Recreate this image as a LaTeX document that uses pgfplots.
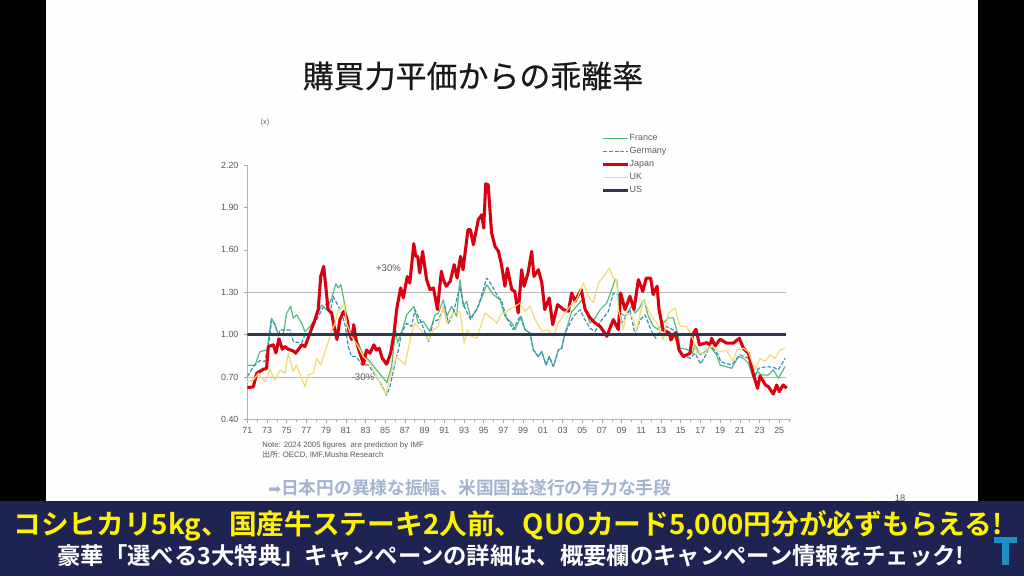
\documentclass[border=0pt]{standalone}
\usepackage{pgfplots}
\pgfplotsset{compat=1.18}
\usepackage{fontspec}
\setmainfont{Liberation Sans}
\newfontfamily\cjk[BoldFont=* Bold]{Noto Sans CJK JP}
\newfontfamily\cjkt[FakeBold=0.5]{Noto Sans CJK JP}
\newfontfamily\djv{DejaVu Sans}
\definecolor{frc}{HTML}{4FBF7E}
\definecolor{ger}{HTML}{3E8FC0}
\definecolor{jpn}{HTML}{D9000F}
\definecolor{ukc}{HTML}{F3DB72}
\definecolor{usc}{HTML}{2E3A4B}
\definecolor{txt}{HTML}{5A5A5A}
\definecolor{ban}{HTML}{1F2352}
\definecolor{foot}{HTML}{A3B4CE}
\definecolor{logo}{HTML}{1E8FC4}
\begin{document}
\begin{tikzpicture}
\useasboundingbox (0,0) rectangle (768pt,-432pt);
\begin{scope}[x=0.75pt,y=-0.75pt]
\fill[black] (0,0) rectangle (1024,576);
\fill[white!99!gray] (46,0) rectangle (978,502);
\node[font=\cjkt\fontsize{23.2pt}{26pt}\selectfont,text=black!90,anchor=center] at (473,76) {購買力平価からの乖離率};
\node[font=\fontsize{5.5pt}{6pt}\selectfont,text=txt] at (265,123) {(x)};
\node[font=\fontsize{7.2pt}{8pt}\selectfont,text=txt] at (388.5,268) {+30\%};
\node[font=\fontsize{5.85pt}{6pt}\selectfont,text=txt,anchor=west,inner sep=0pt] at (262,445.5) {Note: 2024 2005 figures\ \ are prediction by IMF};
\node[font=\fontsize{5.85pt}{6pt}\selectfont,text=txt,anchor=west,inner sep=0pt] at (262,454.5) {{\cjk 出所}: OECD, IMF,Musha Research};
\node[font=\fontsize{13.3pt}{14pt}\selectfont,text=foot,anchor=west,inner sep=0pt] at (268,488) {{\djv\fontsize{11.5pt}{12pt}\selectfont ➡}{\cjk\bfseries 日本円の異様な振幅、米国国益遂行の有力な手段}};
\node[font=\fontsize{7pt}{8pt}\selectfont,text=txt] at (900,498) {18};
\fill[ban] (0,501) rectangle (1024,576);
\node[font=\cjk\bfseries\fontsize{19pt}{21pt}\selectfont,text=yellow,anchor=center,inner sep=0pt] at (508,526) {\resizebox{742pt}{!}{コシヒカリ5kg、国産牛ステーキ2人前、QUOカード5,000円分が必ずもらえる!}};
\node[font=\cjk\bfseries\fontsize{16pt}{18pt}\selectfont,text=white,anchor=center,inner sep=0pt] at (511,556) {\resizebox{680pt}{!}{豪華「選べる3大特典」キャンペーンの詳細は、概要欄のキャンペーン情報をチェック!}};
\fill[logo] (994,537) rectangle (1017,543);
\fill[logo] (1002,543) rectangle (1009,565);
\end{scope}
\begin{axis}[
  at={(185.48pt,-314.48pt)},anchor=south west,
  scale only axis,width=407.8pt,height=190.7pt,
  xmin=71,xmax=126.2,ymin=0.4,ymax=2.2,
  axis lines=left,
  axis line style={-,draw=black!30,line width=0.5pt},
  xtick={71,73,...,125},
  xticklabels={71,73,75,77,79,81,83,85,87,89,91,93,95,97,99,01,03,05,07,09,11,13,15,17,19,21,23,25},
  minor xtick={72,74,...,126},
  ytick={0.4,0.7,1.0,1.3,1.6,1.9,2.2},
  tick style={draw=black!35,line width=0.4pt},
  tick align=outside,
  major tick length=2.5pt,minor tick length=2pt,
  tick label style={font=\fontsize{6.7pt}{7pt}\selectfont,text=txt},
  xticklabel style={yshift=-0.2pt},
  yticklabel style={xshift=-0.6pt},
  /pgf/number format/assume math mode=true,
  yticklabel style={/pgf/number format/fixed,/pgf/number format/fixed zerofill,/pgf/number format/precision=2},
  scaled y ticks=false,
  legend style={at={(0.6505,1.122)},anchor=north west,draw=none,fill=none,
    font=\fontsize{6.7pt}{7pt}\selectfont,text=txt,row sep=3.4pt,inner sep=0pt,
    nodes={inner sep=0pt,text height=5pt,text depth=1.35pt}},
  legend cell align=left,
  legend image code/.code={\draw[#1] (0pt,0pt) -- (19pt,0pt);},
  line join=round,
]
\addplot[forget plot,black!27,line width=0.5pt] coordinates {(71,1.3) (125.7,1.3)};
\addplot[forget plot,black!27,line width=0.5pt] coordinates {(71,0.7) (125.7,0.7)};
\addplot[frc,line width=0.9pt] coordinates {
(71,.783)(71.78,.783)(72.29,.88)(72.79,.887)(73.03,.891)(73.23,1.01)(73.47,1.116)(73.81,1.069)(74.15,.998)(74.65,.998)(74.99,1.151)(75.4,1.2)(75.67,1.116)(76,1.14)(76.52,1.08)(76.85,1.02)(77.36,1.057)(77.87,1.104)(78.55,1.21)(79.05,1.175)(79.56,1.258)(80,1.36)(80.24,1.33)(80.51,1.353)(80.92,1.2)(81.36,1.035)(81.59,.986)(82.27,.939)(82.78,.856)(83.45,.809)(84.13,.749)(84.98,.678)(85.15,.66)(85.65,.773)(86.06,1.033)(86.26,.939)(86.84,1.057)(87.18,1.14)(87.92,1.199)(88.36,1.08)(88.87,1.092)(89.21,1.057)(89.54,1.021)(90.05,1.139)(90.39,1.151)(90.9,1.246)(91.24,1.128)(91.74,1.2)(92.25,1.13)(92.59,1.389)(92.93,1.2)(93.27,1.236)(93.67,1.118)(94.28,1.177)(94.79,1.26)(95.3,1.353)(95.97,1.283)(96.65,1.247)(97.16,1.13)(97.84,1.082)(98.18,1.035)(98.79,1.13)(99.19,1.035)(99.7,1.01)(100.04,.891)(100.55,.844)(100.89,.88)(101.32,.785)(101.66,.844)(102.07,.773)(102.58,.891)(102.92,.903)(103.25,1.01)(103.59,1.08)(103.93,1.163)(104.44,1.2)(104.95,1.246)(105.28,1.187)(105.79,1.08)(106.3,1.116)(106.81,1.175)(107.48,1.222)(107.99,1.317)(108.33,1.389)(108.5,1.389)(108.84,1.153)(109.35,1.13)(110.02,1.2)(110.36,1.153)(110.7,1.177)(111.27,1.247)(111.71,1.13)(112.22,1.059)(112.73,1.035)(113.24,1.082)(113.74,1.118)(114.25,1.118)(114.76,.988)(114.93,.903)(115.6,.896)(116.21,.868)(116.45,.927)(116.96,.856)(117.47,.879)(117.97,.915)(118.65,.856)(118.99,.785)(120.17,.761)(120.85,.844)(121.36,.832)(121.87,.797)(122.37,.69)(122.78,.738)(123.22,.714)(123.9,.714)(124.4,.75)(124.91,.69)(125.59,.773)};
\addlegendentry{France}
\addplot[ger,line width=0.9pt,dash pattern=on 3pt off 1.4pt] coordinates {
(71,.702)(71.61,.773)(72.29,.816)(72.79,.809)(73.23,.962)(73.47,1.104)(73.81,1.069)(74.15,.986)(74.32,1.033)(74.82,1.033)(75.33,1.033)(75.67,.95)(76.52,.939)(76.85,.998)(77.36,1.01)(78.04,1.104)(78.55,1.175)(79.05,1.222)(79.39,1.151)(79.73,1.27)(80.24,1.2)(80.58,1.151)(80.92,1.069)(81.25,.915)(81.59,.844)(82.1,.844)(82.61,.785)(83.28,.785)(83.96,.714)(84.64,.643)(85.15,.572)(85.48,.631)(85.99,.797)(86.33,.891)(86.67,1.01)(87.18,1.08)(87.68,1.057)(88.02,1.175)(88.7,1.08)(89.38,.95)(89.88,1.092)(90.39,1.104)(91.07,1.2)(91.41,1.08)(91.91,1.151)(92.59,1.34)(92.93,1.212)(93.67,1.106)(94.45,1.2)(95.3,1.4)(95.8,1.353)(96.31,1.283)(96.82,1.236)(97.33,1.118)(98,1.035)(98.68,1.13)(99.19,1.035)(99.7,1.01)(100.04,.891)(100.55,.844)(100.89,.88)(101.32,.785)(101.66,.844)(102.07,.773)(102.58,.891)(102.92,.903)(103.25,1.01)(103.59,1.057)(104.1,1.128)(104.78,1.175)(105.28,1.104)(105.79,1.045)(106.3,1.021)(106.98,1.104)(107.65,1.163)(108.16,1.293)(108.67,1.281)(109,1.08)(109.51,1.139)(109.85,1.175)(110.36,.998)(110.87,1.104)(111.38,1.139)(112.05,1.021)(112.46,.974)(112.9,1.021)(113.57,1.057)(114.25,1.033)(114.76,.903)(115.27,.856)(115.95,.832)(116.45,.868)(117.03,.792)(117.64,.868)(117.97,.927)(118.82,.856)(119.06,.808)(120.17,.785)(121.02,.856)(121.87,.832)(122.54,.702)(122.88,.761)(123.73,.773)(124.4,.768)(124.91,.75)(125.59,.832)};
\addlegendentry{Germany}
\addplot[jpn,line width=2.3pt] coordinates {
(71,.624)(71.61,.63)(71.95,.726)(72.62,.754)(72.96,.76)(73.13,.915)(73.64,.927)(73.91,.87)(74.21,.97)(74.55,.896)(74.82,.915)(75.16,.896)(75.67,.884)(75.91,.868)(76.52,.927)(76.85,.915)(77.36,1.01)(77.87,1.106)(78.2,1.177)(78.45,1.41)(78.75,1.483)(79,1.318)(79.2,1.177)(79.56,1.153)(79.8,1.06)(80.1,.965)(80.4,1.106)(80.8,1.165)(81.1,1.118)(81.35,1.01)(81.6,.965)(81.8,1.07)(82.1,.94)(82.44,.868)(82.8,.79)(83.1,.89)(83.45,.868)(83.85,.927)(84.1,.89)(84.4,.903)(84.7,.832)(85.15,.79)(85.55,.868)(85.9,1.01)(86.16,1.177)(86.56,1.33)(86.84,1.26)(87.24,1.41)(87.5,1.365)(87.9,1.643)(88.1,1.554)(88.3,1.554)(88.5,1.436)(88.8,1.589)(89.2,1.389)(89.55,1.318)(89.9,1.33)(90.3,1.177)(90.7,1.448)(90.9,1.389)(91.2,1.342)(91.6,1.377)(92,1.495)(92.3,1.4)(92.65,1.554)(92.9,1.459)(93.4,1.742)(93.65,1.742)(93.95,1.636)(94.45,1.813)(94.8,1.848)(95,1.754)(95.2,2.067)(95.45,2.06)(95.8,1.719)(96.15,1.624)(96.5,1.589)(96.8,1.495)(97.15,1.342)(97.4,1.47)(97.85,1.318)(98.15,1.306)(98.5,1.153)(98.85,1.459)(99.1,1.342)(99.5,1.436)(99.87,1.589)(100.1,1.412)(100.55,1.459)(100.9,1.365)(101.2,1.177)(101.65,1.259)(102,1.07)(102.5,1.212)(103.1,1.177)(103.6,1.165)(103.93,1.295)(104.27,1.236)(104.9,1.318)(105.3,1.177)(105.8,1.118)(106.3,1.082)(106.8,1.059)(107.5,.988)(108.16,1.106)(108.67,1.035)(108.9,1.295)(109.35,1.177)(109.85,1.271)(110.26,1.177)(110.7,1.389)(111.15,1.306)(111.5,1.4)(111.95,1.4)(112.2,1.283)(112.6,1.342)(112.8,1.177)(113.2,1.035)(113.85,1.01)(114,.962)(114.5,1.014)(114.83,.89)(115.27,.844)(115.95,.868)(116.2,.998)(116.55,1.038)(116.9,.927)(117.63,.943)(118,.927)(118.14,.974)(118.5,.92)(119,.967)(119.67,.939)(120.34,.939)(120.95,.974)(121.36,.903)(121.87,.868)(122.4,.714)(122.8,.619)(123.05,.707)(123.6,.643)(123.9,.631)(124.4,.579)(124.74,.643)(125,.596)(125.4,.643)(125.76,.62)};
\addlegendentry{Japan}
\addplot[ukc,line width=0.9pt] coordinates {
(71,.667)(71.61,.678)(72.12,.726)(72.79,.667)(73.3,.749)(73.81,.678)(74.32,.749)(74.82,.726)(75.16,.868)(75.67,.738)(76,.785)(76.52,.69)(76.85,.631)(77.19,.714)(77.7,.726)(78.04,.832)(78.45,.785)(79.05,.915)(79.56,1.021)(79.9,1.08)(80.24,1.175)(80.85,1.21)(81.08,1.08)(81.59,.986)(82.27,.915)(82.78,.844)(83.45,.797)(84.13,.702)(84.64,.631)(85.08,.584)(85.48,.702)(86.16,.844)(87,.785)(87.68,1.01)(88.02,1.08)(88.87,1.01)(89.44,.962)(89.88,1.033)(90.39,1.057)(90.9,1.199)(91.24,1.08)(91.91,1.151)(92.59,1.163)(93.03,.939)(93.33,1.033)(93.77,.986)(94.28,.974)(94.79,1.08)(95.13,1.151)(95.8,1.116)(96.31,1.08)(96.82,1.151)(97.16,1.151)(97.5,1.175)(98.18,1.2)(98.69,1.224)(99.19,1.165)(99.7,1.2)(100.21,1.106)(100.89,1.024)(101.56,1.035)(102.07,.988)(102.58,1.082)(103.25,1.153)(103.76,1.2)(104.44,1.247)(105.12,1.365)(105.62,1.271)(106.13,1.224)(106.64,1.365)(107.31,1.424)(107.75,1.471)(108.16,1.4)(108.5,1.389)(108.67,1.177)(109.18,1.035)(109.51,1.153)(110.02,1.13)(110.53,1.035)(111.21,1.247)(112.05,1.13)(112.56,1.082)(113.24,.965)(113.74,1.153)(114.42,1.188)(114.93,1.059)(115.6,1.059)(116.11,.988)(116.28,.962)(116.62,.868)(117.47,.868)(118.14,.927)(118.82,.879)(119.67,.887)(120.34,.809)(120.68,.891)(121.36,.903)(121.87,.879)(122.54,.749)(123.05,.832)(123.56,.809)(124.07,.856)(124.58,.832)(125.08,.891)(125.59,.903)};
\addlegendentry{UK}
\addplot[usc,line width=2.2pt] coordinates {(71,1)(125.7,1)};
\addlegendentry{US}
\end{axis}
\begin{scope}[x=0.75pt,y=-0.75pt]
\node[font=\fontsize{7.2pt}{8pt}\selectfont,text=txt] at (363,377) {-30\%};
\end{scope}
\end{tikzpicture}
\end{document}
